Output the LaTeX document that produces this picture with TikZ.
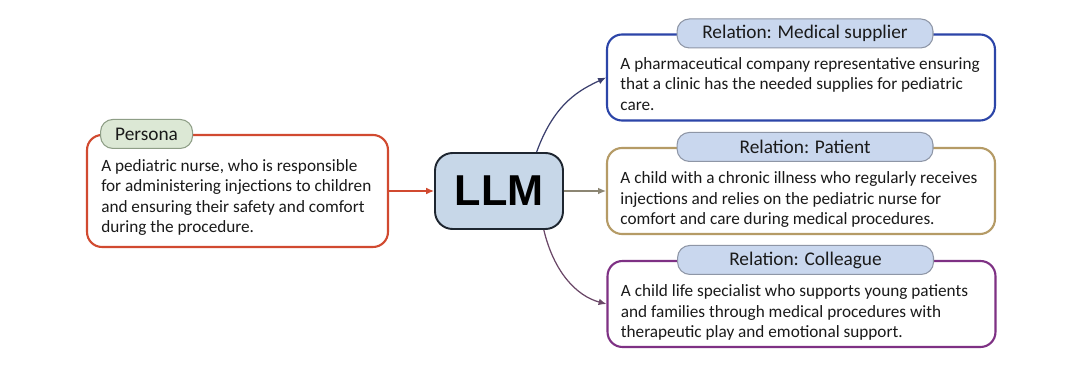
\documentclass[tikz,border=0pt]{standalone}
\usepackage{fontspec}
\setmainfont{Carlito}
\newfontfamily\llmfont{Liberation Sans}
\usetikzlibrary{arrows.meta}
\definecolor{personared}{HTML}{D14A30}
\definecolor{personafill}{HTML}{DCE8D5}
\definecolor{personaedge}{HTML}{8E9E86}
\definecolor{llmfill}{HTML}{C7D7E8}
\definecolor{llmedge}{HTML}{1E2630}
\definecolor{supblue}{HTML}{2C45A8}
\definecolor{pattan}{HTML}{B59B66}
\definecolor{colpurple}{HTML}{7E3184}
\definecolor{tagfill}{HTML}{C9D7EE}
\definecolor{tagedge}{HTML}{8E96A6}
\definecolor{textdark}{HTML}{1A1A1A}
\definecolor{supline}{HTML}{3B3F6E}
\definecolor{patline}{HTML}{8C8673}
\definecolor{colline}{HTML}{6B4868}
\tikzset{
  card/.style={draw=#1, line width=1.2pt, rounded corners=8.5pt, fill=white,
    minimum width=7.76cm, minimum height=1.72cm, inner sep=0pt},
  tag/.style={draw=tagedge, line width=0.6pt, rounded corners=7pt, fill=#1,
    minimum width=5.12cm, minimum height=0.58cm, inner sep=0pt,
    text=textdark, font=\fontsize{11}{13}\selectfont},
  body/.style={anchor=north west, inner sep=0pt, align=left, text=textdark,
    font=\fontsize{9.8}{11.7}\selectfont},
  link/.style={-{Latex[length=4.5pt,width=3.8pt]}, line width=0.7pt, draw=#1},
}
\begin{document}
\begin{tikzpicture}[x=0.02cm,y=-0.02cm]
\useasboundingbox[fill=white] (0,0) rectangle (1080,371);
% persona
\node[card=personared, minimum width=6.02cm, minimum height=2.24cm] (persona) at (237.5,191) {};
\node[tag=personafill, draw=personaedge, minimum width=1.84cm, anchor=west] (personatag) at ([xshift=8pt]persona.north west) {Persona};
\node[body] (personatext) at ([xshift=8.5pt,yshift=-14.2pt]persona.north west) {A pediatric nurse, who is responsible\\for administering injections to children\\and ensuring their safety and comfort\\during the procedure.};
% model
\node[draw=llmedge, fill=llmfill, line width=1.1pt, rounded corners=10pt, minimum width=2.56cm, minimum height=1.52cm, font=\llmfont\bfseries\fontsize{24.6}{28}\selectfont] (llm) at (499,191) {LLM};
% relations
\node[card=supblue] (sup) at (801,77.5) {};
\node[tag=tagfill] (suptag) at ([xshift=2.3pt]sup.north) {Relation: Medical supplier};
\node[body] (suptext) at ([xshift=8pt,yshift=-13.3pt]sup.north west) {A pharmaceutical company representative ensuring\\that a clinic has the needed supplies for pediatric\\care.};
\node[card=pattan] (pat) at (801,191) {};
\node[tag=tagfill] (pattag) at ([xshift=2.3pt]pat.north) {Relation: Patient};
\node[body] (pattext) at ([xshift=8pt,yshift=-13.8pt]pat.north west) {A child with a chronic illness who regularly receives\\injections and relies on the pediatric nurse for\\comfort and care during medical procedures.};
\node[card=colpurple] (col) at (801.5,304) {};
\node[tag=tagfill] (coltag) at ([xshift=2.3pt]col.north) {Relation: Colleague};
\node[body] (coltext) at ([xshift=8pt,yshift=-13.8pt]col.north west) {A child life specialist who supports young patients\\and families through medical procedures with\\therapeutic play and emotional support.};
% links
\draw[link=personared] (persona) -- (llm);
\draw[link=patline] (llm) -- (pat);
\draw[link=supline] (llm.46) .. controls +(18,-50) and +(-25,12) .. (sup.west);
\draw[link=colline] (llm.-41) .. controls +(10,42) and +(-30,-8) .. (col.west);
\end{tikzpicture}
\end{document}
